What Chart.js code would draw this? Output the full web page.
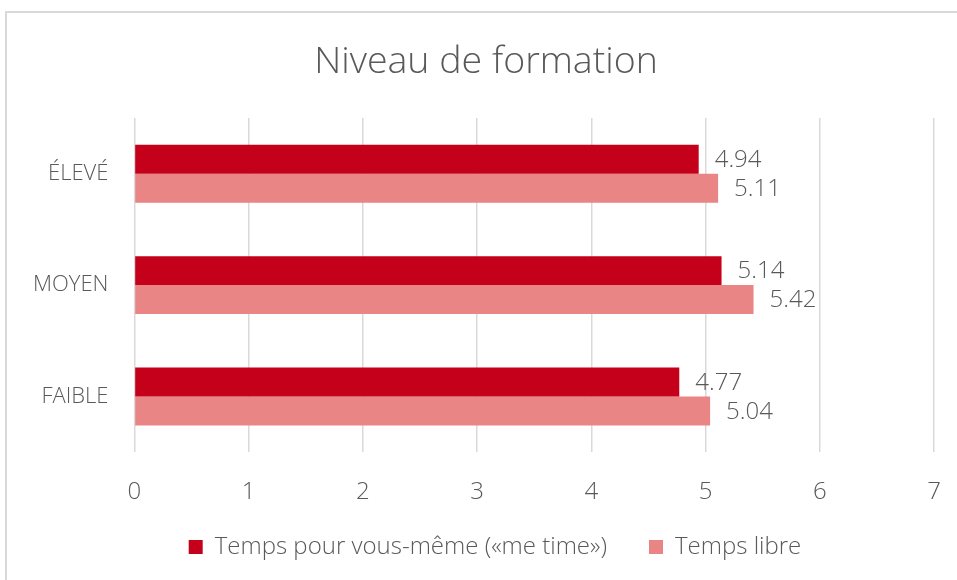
<!DOCTYPE html>
<html>
<head>
<meta charset="utf-8">
<script src="https://cdn.jsdelivr.net/npm/chart.js@4/dist/chart.umd.min.js"></script>
<style>
  html, body { margin: 0; padding: 0; background: #fff; overflow: hidden; }
  #cadre { position: absolute; left: 5px; top: 11px; width: 1000px; height: 700px; border: 2px solid #d9d9d9; box-sizing: border-box; }
  #boite { position: absolute; left: 0; top: 0; width: 957px; height: 580px; }
</style>
</head>
<body>
<div id="cadre"></div>
<div id="boite"><canvas id="formationChart" width="957" height="580"></canvas></div>
<script>
// Données
const niveaux = ['ÉLEVÉ', 'MOYEN', 'FAIBLE'];
const meTime = [4.94, 5.14, 4.77];
const tempsLibre = [5.11, 5.42, 5.04];
const series = ['Temps pour vous-même («me time»)', 'Temps libre'];

const police = "'Open Sans', 'Noto Sans', sans-serif";
const gris = '#595959';
const espaceLegende = 42; // écart horizontal entre les éléments de la légende
const retraitLegende = 40; // hauteur enlevée à la légende (sinon trop d'espace vertical)

// Étiquettes de valeur à droite des barres
const etiquettes = {
    id: 'etiquettes',
    afterDatasetsDraw(chart) {
        const ctx = chart.ctx;
        ctx.save();
        ctx.font = '300 24px ' + police;
        ctx.fillStyle = gris;
        ctx.textBaseline = 'middle';
        ctx.textAlign = 'left';
        chart.data.datasets.forEach((ds, i) => {
            chart.getDatasetMeta(i).data.forEach((bar, j) => {
                ctx.fillText(ds.data[j].toFixed(2), bar.x + 16, bar.y + 1);
            });
        });
        ctx.restore();
    }
};

// La légende garde un grand écart horizontal mais prend moins de hauteur
const ajusteLegende = {
    id: 'ajusteLegende',
    afterInit(chart) {
        const legende = chart.legend;
        const fitOrig = legende.fit.bind(legende);
        legende.fit = function () {
            fitOrig();
            this.height -= retraitLegende;
        };
    },
    afterLayout(chart) {
        const l = chart.legend;
        l.top -= retraitLegende;
        l.height += retraitLegende;
        l.left += 9;
        l.right += 9;
    }
};

const ctx = document.getElementById('formationChart').getContext('2d');
const formationChart = new Chart(ctx, {
    type: 'bar',
    data: {
        labels: niveaux,
        datasets: [{
            label: series[0],
            data: meTime,
            backgroundColor: '#c4001a',
            categoryPercentage: 0.52,
            barPercentage: 1
        }, {
            label: series[1],
            data: tempsLibre,
            backgroundColor: '#e98585',
            categoryPercentage: 0.52,
            barPercentage: 1
        }]
    },
    options: {
        indexAxis: 'y',
        responsive: false,
        animation: false,
        layout: { padding: { left: 15, right: 0, top: 10, bottom: 11 } },
        scales: {
            x: {
                min: 0,
                max: 7,
                ticks: { stepSize: 1, color: gris, font: { family: police, size: 24, weight: '300' }, padding: 26 },
                grid: { color: '#d9d9d9', lineWidth: 1.5, drawTicks: false },
                border: { display: false },
                afterFit(scale) {
                    scale.paddingRight = 23; // le « 7 » touche presque le bord droit
                }
            },
            y: {
                ticks: { color: gris, font: { family: police, size: 22, weight: '300' }, padding: 18 },
                grid: { display: false },
                border: { display: false }
            }
        },
        plugins: {
            title: {
                display: true,
                text: 'Niveau de formation',
                color: gris,
                font: { family: police, size: 37.5, weight: '300' },
                padding: { top: 30, bottom: 33 }
            },
            legend: {
                position: 'bottom',
                labels: {
                    color: gris,
                    font: { family: police, size: 24, weight: '300' },
                    boxWidth: 14,
                    boxHeight: 14,
                    padding: espaceLegende
                }
            },
            tooltip: { enabled: false }
        }
    },
    plugins: [etiquettes, ajusteLegende]
});
</script>
</body>
</html>
